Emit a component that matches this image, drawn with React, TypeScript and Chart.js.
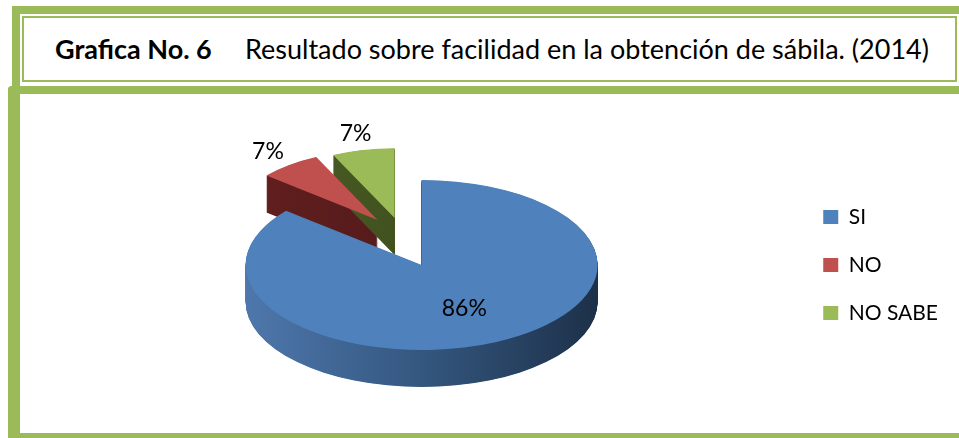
import React, { useEffect, useRef } from "react";
import { Chart, registerables } from "chart.js";

Chart.register(...registerables);

// ---- data ----
const CATEGORIES = ["SI", "NO", "NO SABE"];
const PERCENTS = [86, 7, 7];
const TITLE_BOLD = "Grafica No. 6";
const TITLE_TEXT = "Resultado sobre facilidad en la obtención de sábila. (2014)";

// ---- style ----
const TOP_COLORS = ["#4F81BD", "#C0504D", "#9BBB59"];
const SIDE_STOPS = [
  ["#4E77AC", "#34577F", "#1D3049"],
  ["#641F1F", "#561B1B", "#4A1717"],
  ["#4A5E27", "#41521F", "#39481B"],
];
const GREEN = "#9BBB59";
const TILT = 0.483; // vertical squash of the pie top
const DEPTH = 37; // px thickness
const EXPLODE = [
  { dx: 0, dy: 0 },
  { dx: -44, dy: -45 },
  { dx: -27, dy: -47 },
];
const SHRINK = [1, 0.82, 0.82];
const LABEL_K = [0.57, 1.24, 1.24];
const FONT = "Lato, 'Open Sans', sans-serif";

const centerOf = (chart: any) => {
  const a = chart.chartArea;
  return { cx: (a.left + a.right) / 2, cy: (a.top + a.bottom) / 2 };
};

const pie3d = {
  id: "pie3d",
  afterDatasetsUpdate(chart: any) {
    const meta = chart.getDatasetMeta(0);
    meta.data.forEach((arc: any, i: number) => {
      arc.x = arc.x + EXPLODE[i].dx;
      arc.y = arc.y + EXPLODE[i].dy / TILT;
      arc.outerRadius = arc.outerRadius * SHRINK[i];
    });
  },
  beforeDatasetsDraw(chart: any) {
    const ctx = chart.ctx;
    const { cx, cy } = centerOf(chart);
    ctx.save();
    ctx.translate(cx, cy);
    ctx.scale(1, TILT);
    ctx.translate(-cx, -cy);
    const meta = chart.getDatasetMeta(0);
    meta.data.forEach((arc: any, i: number) => {
      const r = arc.outerRadius;
      const g = ctx.createLinearGradient(arc.x - r, 0, arc.x + r, 0);
      g.addColorStop(0, SIDE_STOPS[i][0]);
      g.addColorStop(0.5, SIDE_STOPS[i][1]);
      g.addColorStop(1, SIDE_STOPS[i][2]);
      ctx.fillStyle = g;
      for (let d = DEPTH; d >= 0.5; d -= 0.5) {
        ctx.save();
        ctx.translate(0, d / TILT);
        ctx.beginPath();
        ctx.moveTo(arc.x, arc.y);
        ctx.arc(arc.x, arc.y, r, arc.startAngle, arc.endAngle);
        ctx.closePath();
        ctx.fill();
        ctx.restore();
      }
    });
  },
  afterDatasetsDraw(chart: any) {
    const ctx = chart.ctx;
    ctx.restore();
    const { cy } = centerOf(chart);
    const meta = chart.getDatasetMeta(0);
    ctx.save();
    ctx.font = `23px ${FONT}`;
    ctx.fillStyle = "#000";
    ctx.textAlign = "center";
    ctx.textBaseline = "middle";
    meta.data.forEach((arc: any, i: number) => {
      const mid = (arc.startAngle + arc.endAngle) / 2;
      const r = arc.outerRadius * LABEL_K[i];
      const px = arc.x + Math.cos(mid) * r;
      const py = cy + (arc.y + Math.sin(mid) * r - cy) * TILT;
      ctx.fillText(`${PERCENTS[i]}%`, px, py);
    });
    ctx.restore();
  },
};

function PieChart() {
  const ref = useRef<HTMLCanvasElement | null>(null);
  useEffect(() => {
    if (!ref.current) return;
    const chart = new Chart(ref.current, {
      type: "pie",
      data: {
        labels: CATEGORIES,
        datasets: [
          {
            data: PERCENTS,
            backgroundColor: TOP_COLORS,
            borderWidth: 0,
            clip: false as any,
          } as any,
        ],
      },
      options: {
        animation: false,
        responsive: false,
        events: [],
        layout: { padding: { left: 47, right: 11, top: 89, bottom: 19 } },
        plugins: {
          tooltip: { enabled: false },
          legend: {
            position: "right",
            labels: {
              boxWidth: 15,
              boxHeight: 14,
              padding: 27,
              color: "#000",
              font: { family: FONT, size: 21 },
            },
          },
        },
      },
      plugins: [pie3d],
    });
    return () => chart.destroy();
  }, []);
  return (
    <canvas
      ref={ref}
      width={959}
      height={460}
      style={{ position: "absolute", left: 0, top: 0, width: 959, height: 460 }}
    />
  );
}

export default function App() {
  return (
    <div
      style={{
        position: "fixed",
        left: 0,
        top: 0,
        width: 959,
        height: 438,
        overflow: "hidden",
        background: "#fff",
        fontFamily: FONT,
      }}
    >
      {/* title frame */}
      <div
        style={{
          position: "absolute",
          left: 12,
          top: 6,
          width: 980,
          height: 90,
          borderTop: `8px solid ${GREEN}`,
          borderLeft: `8px solid ${GREEN}`,
          boxSizing: "border-box",
        }}
      />
      <div
        style={{
          position: "absolute",
          left: 22,
          top: 16,
          width: 935,
          height: 66,
          border: `2px solid ${GREEN}`,
          boxSizing: "border-box",
        }}
      />
      {/* chart frame */}
      <div
        style={{
          position: "absolute",
          left: 8,
          top: 86,
          width: 980,
          height: 352,
          borderTop: `8px solid ${GREEN}`,
          borderLeft: `12px solid ${GREEN}`,
          borderBottom: `5px solid ${GREEN}`,
          borderTopLeftRadius: 4,
          boxSizing: "border-box",
        }}
      />
      <div
        style={{
          position: "absolute",
          left: 55,
          top: 34,
          fontSize: 27,
          lineHeight: "30px",
          color: "#000",
          whiteSpace: "nowrap",
        }}
      >
        <span style={{ fontWeight: 700 }}>{TITLE_BOLD}</span>
      </div>
      <div
        style={{
          position: "absolute",
          left: 245,
          top: 34,
          fontSize: 27,
          lineHeight: "30px",
          color: "#000",
          whiteSpace: "nowrap",
        }}
      >
        {TITLE_TEXT}
      </div>
      <PieChart />
    </div>
  );
}
